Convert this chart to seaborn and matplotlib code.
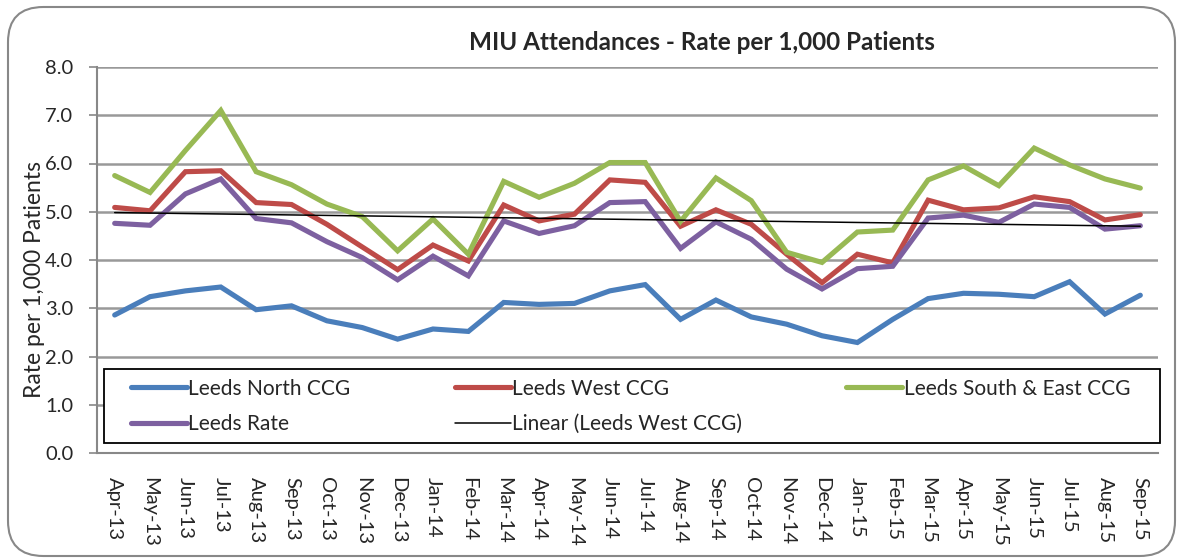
import numpy as np
import pandas as pd
import seaborn as sns
import matplotlib.pyplot as plt
from matplotlib.patches import FancyBboxPatch, Rectangle

months = ["Apr-13", "May-13", "Jun-13", "Jul-13", "Aug-13", "Sep-13", "Oct-13",
          "Nov-13", "Dec-13", "Jan-14", "Feb-14", "Mar-14", "Apr-14", "May-14",
          "Jun-14", "Jul-14", "Aug-14", "Sep-14", "Oct-14", "Nov-14", "Dec-14",
          "Jan-15", "Feb-15", "Mar-15", "Apr-15", "May-15", "Jun-15", "Jul-15",
          "Aug-15", "Sep-15"]

north = [2.86, 3.24, 3.36, 3.44, 2.97, 3.05, 2.74, 2.60, 2.36, 2.57,
         2.52, 3.12, 3.08, 3.10, 3.36, 3.49, 2.77, 3.17, 2.82, 2.67,
         2.43, 2.29, 2.77, 3.20, 3.31, 3.29, 3.24, 3.55, 2.88, 3.27]
west = [5.09, 5.02, 5.83, 5.85, 5.19, 5.15, 4.74, 4.27, 3.80, 4.31,
        3.98, 5.14, 4.81, 4.95, 5.66, 5.61, 4.70, 5.04, 4.74, 4.12,
        3.53, 4.12, 3.94, 5.24, 5.04, 5.08, 5.31, 5.21, 4.83, 4.94]
south_east = [5.75, 5.40, 6.27, 7.10, 5.83, 5.56, 5.16, 4.90, 4.19, 4.85,
              4.12, 5.63, 5.30, 5.59, 6.02, 6.02, 4.80, 5.70, 5.23, 4.16,
              3.95, 4.58, 4.62, 5.66, 5.95, 5.54, 6.32, 5.97, 5.68, 5.49]
leeds = [4.76, 4.72, 5.37, 5.68, 4.86, 4.77, 4.38, 4.05, 3.59, 4.08,
         3.67, 4.81, 4.55, 4.71, 5.19, 5.21, 4.24, 4.79, 4.43, 3.81,
         3.40, 3.82, 3.87, 4.87, 4.93, 4.78, 5.16, 5.09, 4.64, 4.71]

series = {"Leeds North CCG": north,
          "Leeds West CCG": west,
          "Leeds South & East CCG": south_east,
          "Leeds Rate": leeds}
colors = {"Leeds North CCG": "#4A7EBB",
          "Leeds West CCG": "#BE4B48",
          "Leeds South & East CCG": "#98B954",
          "Leeds Rate": "#7D60A0"}

x = np.arange(len(months))
df = pd.concat([pd.DataFrame({"idx": x, "rate": v, "series": k})
                for k, v in series.items()], ignore_index=True)

# linear trend of Leeds West, as Excel would add it
slope, intercept = np.polyfit(x, west, 1)
trend = pd.DataFrame({"idx": x, "rate": slope * x + intercept})

sns.set_style("white")
plt.rcParams['font.family'] = ['Lato', 'DejaVu Sans']

W, H = 1180, 558
fig = plt.figure(figsize=(W / 100, H / 100), dpi=100)
ax = fig.add_axes([97/W, 1 - 453/H, (1158 - 97)/W, (453 - 67)/H])

sns.lineplot(data=df, x="idx", y="rate", hue="series", palette=colors,
             linewidth=3.7, ax=ax, legend=False, sort=False)
sns.lineplot(data=trend, x="idx", y="rate", color="black", linewidth=1.1,
             ax=ax, legend=False)
for ln in ax.lines[:4]:
    ln.set_solid_capstyle("round")
    ln.set_solid_joinstyle("miter")

ax.set_xlim(-0.5, len(months) - 0.5)
ax.set_ylim(0, 8)
ax.set_yticks(np.arange(0, 9, 1))
ax.set_yticklabels([f"{v:.1f}" for v in np.arange(0, 9, 1)], fontsize=14.5)
ax.set_xticks(x)
ax.set_xticklabels(months, rotation=-90, fontsize=14.5)
ax.set_xticks(np.arange(-0.5, len(months)), minor=True)
ax.tick_params(axis="x", which="major", length=0, pad=17)
ax.tick_params(axis="x", which="minor", length=6, width=1.2, color="#888888",
               direction="out")
ax.tick_params(axis="y", length=6, width=1.2, color="#888888", direction="out",
               pad=11, left=True)
ax.grid(axis="y", color="#999999", linewidth=1.8)
ax.set_axisbelow(True)
for side in ["top", "right"]:
    ax.spines[side].set_visible(False)
for side in ["left", "bottom"]:
    ax.spines[side].set_color("#888888")
    ax.spines[side].set_linewidth(1.5)

ax.set_xlabel("")
ax.set_ylabel("Rate per 1,000 Patients", fontsize=16.5)
ax.yaxis.set_label_coords(-0.049, 0.45)

fig.text(702/W, 1 - 42/H, "MIU Attendances - Rate per 1,000 Patients",
         ha="center", va="center", fontsize=17.5, fontweight="bold")

# legend frame drawn on its own so the entries can sit inset like Excel's
frame = Rectangle((104/W, 1 - 443/H), (1160 - 104)/W, (443 - 369)/H,
                  transform=fig.transFigure, facecolor="white",
                  edgecolor="black", linewidth=1.3, zorder=4)
fig.patches.append(frame)

lines = ax.lines
handles = [lines[0], lines[3], lines[1], lines[4], lines[2]]
labels = ["Leeds North CCG", "Leeds Rate", "Leeds West CCG",
          "Linear (Leeds West CCG)", "Leeds South & East CCG"]
leg = fig.legend(handles, labels, ncol=3, mode="expand",
                 bbox_to_anchor=(131/W, 1 - 444/H, (1130 - 131)/W, (444 - 369)/H),
                 loc="center", fontsize=15, frameon=False,
                 handlelength=2.7, handletextpad=0.05, borderaxespad=0,
                 labelspacing=0.75, borderpad=0)
leg.set_zorder(5)

border = FancyBboxPatch((8/W, 2/H), 1167/W, 549/H,
                        boxstyle="round,pad=0,rounding_size=0.03",
                        transform=fig.transFigure, facecolor="none",
                        edgecolor="#888888", linewidth=1.5, mutation_aspect=2.1)
fig.patches.append(border)

fig.savefig("out.png", dpi=100)
